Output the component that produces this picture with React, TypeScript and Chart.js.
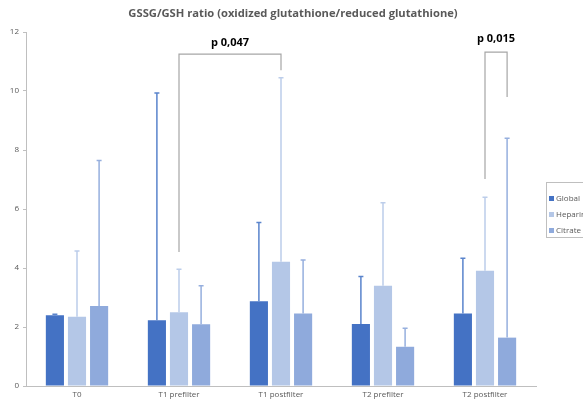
import React, { useEffect, useRef } from 'react';
import { Chart, registerables } from 'chart.js';

Chart.register(...registerables);

const categories = ['T0', 'T1 prefilter', 'T1 postfilter', 'T2 prefilter', 'T2 postfilter'];
const seriesNames = ['Global', 'Heparin', 'Citrate'];
const globalValues = [2.4, 2.23, 2.87, 2.1, 2.46];
const heparinValues = [2.35, 2.5, 4.21, 3.4, 3.91];
const citrateValues = [2.71, 2.09, 2.46, 1.33, 1.64];
const globalUpper = [2.43, 9.93, 5.54, 3.71, 4.33];
const heparinUpper = [4.58, 3.96, 10.45, 6.21, 6.4];
const citrateUpper = [7.64, 3.4, 4.27, 1.96, 8.4];
const yTicks = [0, 2, 4, 6, 8, 10, 12];

// significance brackets: [datasetIndex, categoryIndex] for each leg, values in data units
const bracketLabels = ['p 0,047', 'p 0,015'];
const bracketLeft = [[1, 1], [1, 4]];
const bracketRight = [[1, 2], [2, 4]];
const bracketTop = [11.25, 11.32];
const bracketLeftBottom = [4.54, 7.02];
const bracketRightBottom = [10.7, 9.8];
const bracketLabelY = [11.63, 11.76];

const colors = ['#4472C4', '#B4C7E7', '#8FAADC'];
const errColors = ['#5A84CC', '#BCCDEA', '#96AFDE'];
const textColor = '#595959';

export default function App() {
  const ref = useRef<HTMLCanvasElement | null>(null);

  useEffect(() => {
    document.body.style.margin = '0';
    const canvas = ref.current!;
    const uppers = [globalUpper, heparinUpper, citrateUpper];

    const errorPlugin = {
      id: 'errbars',
      afterDatasetsDraw(chart: any) {
        const ctx = chart.ctx;
        const y = chart.scales.y;
        ctx.save();
        uppers.forEach((up, di) => {
          const meta = chart.getDatasetMeta(di);
          meta.data.forEach((bar: any, i: number) => {
            const yTop = y.getPixelForValue(up[i]);
            const yBase = bar.y;
            ctx.strokeStyle = errColors[di];
            ctx.lineWidth = 1.5;
            ctx.beginPath();
            ctx.moveTo(bar.x, yBase);
            ctx.lineTo(bar.x, yTop);
            ctx.moveTo(bar.x - 2.5, yTop);
            ctx.lineTo(bar.x + 2.5, yTop);
            ctx.stroke();
          });
        });
        // brackets
        ctx.strokeStyle = '#A6A6A6';
        ctx.lineWidth = 1.2;
        bracketLabels.forEach((lbl, k) => {
          const lb = chart.getDatasetMeta(bracketLeft[k][0]).data[bracketLeft[k][1]];
          const rb = chart.getDatasetMeta(bracketRight[k][0]).data[bracketRight[k][1]];
          const yt = y.getPixelForValue(bracketTop[k]);
          ctx.beginPath();
          ctx.moveTo(lb.x, y.getPixelForValue(bracketLeftBottom[k]));
          ctx.lineTo(lb.x, yt);
          ctx.lineTo(rb.x, yt);
          ctx.lineTo(rb.x, y.getPixelForValue(bracketRightBottom[k]));
          ctx.stroke();
          ctx.fillStyle = '#000';
          ctx.font = 'bold 11px "Open Sans"';
          ctx.textAlign = 'center';
          ctx.textBaseline = 'middle';
          ctx.fillText(lbl, (lb.x + rb.x) / 2, y.getPixelForValue(bracketLabelY[k]));
        });
        // title
        ctx.fillStyle = textColor;
        ctx.font = 'bold 11.2px "Open Sans"';
        ctx.textAlign = 'center';
        ctx.textBaseline = 'middle';
        ctx.fillText('GSSG/GSH ratio (oxidized glutathione/reduced glutathione)', 293, 14);
        // legend
        ctx.strokeStyle = '#BFBFBF';
        ctx.lineWidth = 1;
        ctx.strokeRect(546.5, 182.5, 50, 55);
        ctx.font = '8px "Open Sans"';
        ctx.textAlign = 'left';
        seriesNames.forEach((n, i) => {
          const cy = 199 + i * 16;
          ctx.fillStyle = colors[i];
          ctx.fillRect(549, cy - 3, 5, 5);
          ctx.fillStyle = textColor;
          ctx.fillText(n, 556, cy);
        });
        ctx.restore();
      },
    };

    const chart = new Chart(canvas, {
      type: 'bar',
      data: {
        labels: categories,
        datasets: [globalValues, heparinValues, citrateValues].map((d, i) => ({
          label: seriesNames[i],
          data: d,
          backgroundColor: colors[i],
          categoryPercentage: 0.65,
          barPercentage: 0.82,
        })),
      },
      options: {
        animation: false,
        responsive: false,
        maintainAspectRatio: false,
        layout: { padding: { top: 32, right: 47, bottom: 0, left: 0 } },
        plugins: { legend: { display: false }, tooltip: { enabled: false }, title: { display: false } },
        scales: {
          x: {
            grid: { display: false, drawTicks: false },
            border: { color: '#BFBFBF', width: 1 },
            ticks: { color: textColor, font: { size: 8, family: '"Open Sans"' }, padding: 4 },
            afterFit: (s: any) => { s.height = 16; },
          },
          y: {
            min: 0,
            max: 12,
            afterBuildTicks: (s: any) => { s.ticks = yTicks.map((v) => ({ value: v })); },
            grid: { drawOnChartArea: false, tickLength: 3, color: '#BFBFBF' },
            border: { color: '#BFBFBF', width: 1 },
            ticks: { color: textColor, font: { size: 8, family: '"Open Sans"' }, padding: 4 },
            afterFit: (s: any) => { s.width = 26; },
          },
        },
      },
      plugins: [errorPlugin],
    });
    return () => chart.destroy();
  }, []);

  return (
    <div style={{ position: 'fixed', left: 0, top: 0, width: 583, height: 402, background: '#fff' }}>
      <canvas ref={ref} width={583} height={402} style={{ width: 583, height: 402 }} />
    </div>
  );
}
